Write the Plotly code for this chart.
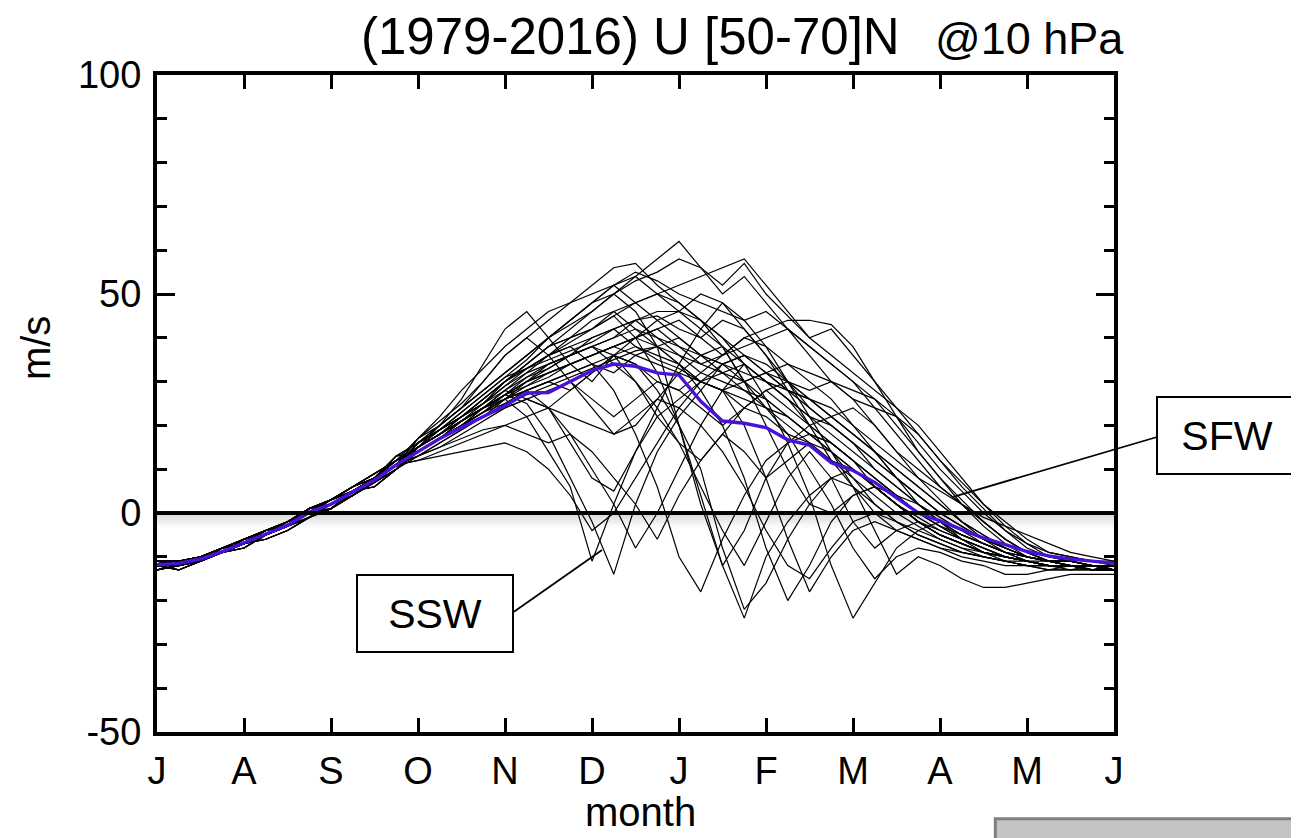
import plotly.graph_objects as go

# zonal-mean U, 50-70N, 10 hPa; one list per winter (Jul -> Jun), weekly-ish samples
month_labels = ["J", "A", "S", "O", "N", "D", "J", "F", "M", "A", "M", "J"]
month_pos = [i * 0.25 for i in range(45)]
y_ticks = [-50, 0, 50, 100]
y_labels = ["-50", "0", "50", "100"]

u1979 = [-12, -12, -11, -9, -7, -5, -3, 0, 2, 5, 8, 11, 16, 19, 22, 26, 30, 34, 38, 42, 46, 50, 53, 55, 58, 56, 52, 57, 50, 45, 40, 42, 36, 30, 24, 18, 12, 6, 1, -4, -8, -10, -11, -12, -12]
u1980 = [-13, -12, -10, -8, -6, -4, -2, 1, 3, 6, 9, 12, 15, 18, 21, 24, 26, 22, 14, 6, -11, 2, 14, 22, 26, 30, 28, 24, 28, 24, 20, 22, 18, 14, 10, 6, 2, -2, -5, -8, -10, -11, -12, -12, -13]
u1981 = [-11, -11, -10, -9, -7, -5, -3, -1, 1, 4, 7, 10, 14, 17, 20, 23, 27, 25, 18, 8, -2, -14, 2, 14, 22, 28, 34, 30, 32, 28, 26, 22, 24, 20, 14, 10, 6, 2, -2, -6, -9, -11, -12, -13, -12]
u1982 = [-12, -11, -11, -9, -6, -5, -2, 0, 3, 5, 7, 11, 15, 19, 22, 25, 30, 33, 36, 40, 42, 45, 40, 32, 20, 4, -12, -24, -10, -2, 4, 8, 6, 2, -2, -5, -7, -9, -10, -11, -12, -12, -12, -13, -13]
u1983 = [-12, -13, -11, -8, -7, -4, -3, 1, 2, 4, 8, 12, 14, 17, 21, 24, 27, 31, 33, 36, 38, 40, 44, 46, 46, 44, 40, 34, 26, 16, 4, -12, -24, -16, -8, -4, -2, -6, -9, -11, -12, -13, -12, -13, -13]
u1984 = [-11, -12, -10, -9, -8, -5, -3, 0, 1, 5, 7, 11, 17, 20, 24, 28, 32, 36, 40, 43, 46, 50, 54, 58, 62, 56, 50, 54, 48, 42, 38, 34, 30, 26, 20, 14, 8, 3, -2, -6, -9, -11, -12, -12, -13]
u1985 = [-13, -12, -11, -9, -7, -6, -4, -1, 2, 5, 8, 11, 16, 19, 23, 27, 31, 33, 36, 39, 42, 45, 48, 50, 52, 54, 56, 58, 52, 46, 40, 36, 32, 28, 24, 20, 14, 8, 2, -3, -7, -10, -11, -12, -12]
u1986 = [-12, -11, -10, -8, -6, -4, -2, 1, 3, 6, 8, 13, 14, 17, 20, 23, 26, 30, 34, 36, 40, 42, 38, 36, 34, 30, 32, 28, 26, 22, 18, 14, 6, -4, -14, -10, -12, -15, -17, -17, -16, -15, -14, -14, -14]
u1987 = [-12, -12, -11, -9, -7, -5, -3, 0, 2, 5, 8, 11, 13, 16, 19, 22, 25, 28, 30, 32, 34, 36, 38, 35, 33, 30, 28, 26, 24, 22, 18, 14, 10, 6, 2, -1, -4, -6, -8, -10, -11, -11, -12, -12, -12]
u1988 = [-13, -12, -10, -8, -6, -4, -2, 1, 3, 6, 9, 12, 15, 18, 21, 24, 28, 26, 24, 28, 32, 36, 30, 22, 16, 12, 18, 24, 28, 30, 26, 22, 18, 14, 8, 2, -2, -5, -7, -9, -10, -11, -11, -12, -12]
u1989 = [-11, -11, -10, -9, -7, -5, -3, -1, 1, 4, 7, 10, 16, 20, 26, 34, 42, 46, 40, 34, 30, 36, 40, 44, 46, 42, 38, 30, 24, 20, 16, 12, 8, 4, 0, -3, -6, -8, -9, -10, -11, -12, -12, -12, -13]
u1990 = [-12, -11, -11, -9, -6, -5, -2, 0, 3, 5, 7, 11, 12, 13, 14, 15, 16, 14, 10, 4, -4, 0, 8, 16, 24, 30, 34, 36, 32, 28, 24, 20, 16, 12, 8, 4, 0, -3, -6, -8, -10, -11, -12, -12, -12]
u1991 = [-12, -13, -11, -8, -7, -4, -3, 1, 2, 4, 8, 12, 14, 17, 21, 25, 29, 32, 36, 38, 34, 28, 18, 6, -10, -18, -6, 4, 12, 16, 18, 16, 12, 8, 4, 0, -3, -5, -7, -9, -10, -11, -11, -12, -12]
u1992 = [-11, -12, -10, -9, -8, -5, -3, 0, 1, 5, 6, 10, 15, 18, 22, 26, 30, 34, 38, 40, 44, 46, 42, 38, 34, 28, 20, 8, -8, -20, -12, -2, 4, 6, 4, 2, -1, -4, -7, -9, -11, -12, -12, -13, -13]
u1993 = [-13, -12, -11, -9, -7, -6, -4, -1, 2, 5, 8, 11, 17, 21, 25, 30, 36, 40, 44, 48, 52, 56, 57, 52, 48, 44, 40, 36, 34, 30, 26, 22, 18, 14, 10, 6, 2, -2, -5, -8, -10, -11, -12, -12, -12]
u1994 = [-12, -11, -10, -8, -6, -4, -2, 1, 3, 6, 8, 13, 14, 17, 20, 23, 26, 28, 30, 32, 34, 32, 36, 38, 40, 36, 34, 36, 32, 30, 28, 30, 26, 24, 22, 18, 12, 7, 2, -2, -6, -9, -10, -11, -12]
u1995 = [-12, -12, -11, -9, -7, -5, -3, 0, 2, 5, 8, 11, 13, 15, 17, 19, 20, 18, 16, 18, 14, 8, 2, -6, 4, 12, 18, 14, 8, 12, 16, 14, 10, 6, 2, -2, -5, -7, -9, -10, -11, -12, -12, -13, -13]
u1996 = [-13, -12, -10, -8, -6, -4, -2, 1, 3, 6, 9, 12, 15, 18, 21, 24, 27, 30, 33, 36, 38, 34, 30, 24, 16, 6, -4, -12, -2, 8, 14, 8, -2, -8, -4, -2, -4, -6, -8, -10, -11, -12, -12, -12, -13]
u1997 = [-11, -11, -10, -9, -7, -5, -3, -1, 1, 4, 7, 10, 16, 20, 24, 28, 32, 36, 40, 44, 48, 52, 54, 50, 46, 50, 48, 42, 36, 28, 20, 12, 6, 0, -4, -6, -8, -9, -10, -11, -11, -12, -12, -12, -13]
u1998 = [-12, -11, -11, -9, -6, -5, -2, 0, 3, 5, 7, 11, 14, 17, 20, 24, 27, 29, 31, 34, 36, 38, 40, 42, 44, 40, 36, 38, 40, 42, 38, 34, 30, 24, 18, 12, 6, 2, -2, -6, -9, -11, -12, -12, -12]
u1999 = [-12, -13, -11, -8, -7, -4, -3, 1, 2, 4, 8, 12, 15, 18, 21, 24, 26, 28, 30, 28, 32, 36, 34, 30, 28, 32, 36, 40, 38, 34, 30, 26, 20, 14, 8, 4, 0, -3, -6, -8, -10, -11, -11, -12, -12]
u2000 = [-11, -12, -10, -9, -8, -5, -3, 0, 1, 5, 6, 10, 13, 16, 19, 22, 26, 28, 24, 16, 8, 5, 14, 24, 34, 42, 48, 44, 38, 30, 22, 14, 8, 2, -2, -5, -7, -9, -10, -11, -12, -12, -13, -13, -13]
u2001 = [-13, -12, -11, -9, -7, -6, -4, -1, 2, 5, 8, 11, 15, 19, 22, 26, 30, 33, 36, 38, 40, 42, 44, 40, 36, 32, 30, 28, 24, 18, 10, 2, -8, -15, -10, -8, -9, -11, -12, -14, -14, -13, -13, -12, -12]
u2002 = [-12, -11, -10, -8, -6, -4, -2, 1, 3, 6, 8, 13, 16, 19, 22, 26, 30, 34, 38, 40, 42, 46, 48, 50, 48, 44, 38, 30, 20, 10, 2, 0, 4, 6, 2, -2, -5, -7, -9, -10, -11, -12, -12, -12, -12]
u2003 = [-12, -12, -11, -9, -7, -5, -3, 0, 2, 5, 8, 11, 15, 20, 24, 30, 36, 40, 36, 30, 24, 18, 20, 26, 32, 36, 38, 34, 30, 26, 22, 20, 16, 10, 6, 2, -2, -4, -6, -8, -10, -11, -12, -12, -13]
u2004 = [-13, -12, -10, -8, -6, -4, -2, 1, 3, 6, 9, 12, 14, 17, 20, 24, 28, 32, 34, 36, 38, 40, 42, 40, 38, 36, 34, 32, 30, 28, 26, 24, 20, 16, 12, 8, 5, 2, -1, -3, -5, -7, -9, -10, -11]
u2005 = [-11, -11, -10, -9, -7, -5, -3, -1, 1, 4, 7, 10, 15, 18, 22, 25, 28, 31, 34, 36, 38, 36, 34, 28, 20, 10, -8, -22, -16, -6, 2, 8, 10, 6, 2, -2, -5, -7, -9, -10, -11, -12, -12, -12, -13]
u2006 = [-12, -11, -11, -9, -6, -5, -2, 0, 3, 5, 7, 11, 14, 17, 20, 23, 26, 29, 32, 34, 36, 38, 40, 38, 36, 34, 32, 30, 26, 22, 18, 16, 12, 8, 4, 0, -3, -6, -8, -10, -11, -12, -12, -12, -12]
u2007 = [-12, -13, -11, -8, -7, -4, -3, 1, 2, 4, 8, 12, 15, 18, 21, 24, 27, 30, 32, 34, 36, 38, 40, 42, 38, 34, 36, 40, 42, 44, 44, 43, 38, 30, 22, 14, 8, 2, -3, -7, -10, -11, -12, -12, -12]
u2008 = [-11, -12, -10, -9, -8, -5, -3, 0, 1, 5, 6, 10, 14, 17, 20, 22, 24, 26, 24, 18, 10, 2, -8, 0, 10, 20, 28, 34, 30, 26, 22, 18, 14, 10, 6, 2, -2, -5, -7, -9, -10, -11, -11, -12, -12]
u2009 = [-13, -12, -11, -9, -7, -6, -4, -1, 2, 5, 8, 11, 12, 14, 16, 18, 20, 22, 24, 22, 20, 18, 22, 26, 24, 20, 14, 6, -4, -12, -15, -8, -2, 0, -2, -4, -6, -8, -10, -11, -12, -12, -12, -13, -13]
u2010 = [-12, -11, -10, -8, -6, -4, -2, 1, 3, 6, 8, 13, 16, 20, 24, 28, 32, 36, 40, 44, 48, 52, 55, 53, 50, 48, 46, 44, 46, 42, 36, 30, 26, 20, 14, 8, 3, -2, -6, -9, -11, -12, -12, -13, -13]
u2011 = [-12, -12, -11, -9, -7, -5, -3, 0, 2, 5, 8, 11, 16, 19, 23, 27, 31, 35, 40, 44, 48, 50, 46, 38, 20, 2, -12, -4, 8, 16, 20, 16, 12, 8, 4, 0, -3, -6, -8, -10, -11, -12, -12, -12, -12]
u2012 = [-13, -12, -10, -8, -6, -4, -2, 1, 3, 6, 9, 12, 14, 17, 21, 24, 27, 30, 32, 34, 36, 38, 36, 34, 32, 30, 28, 20, 8, -6, -18, -10, -4, -2, -4, -6, -8, -10, -11, -12, -12, -13, -13, -13, -12]
u2013 = [-11, -11, -10, -9, -7, -5, -3, -1, 1, 4, 7, 10, 15, 18, 22, 25, 29, 33, 35, 37, 39, 42, 44, 45, 42, 40, 44, 42, 36, 30, 24, 20, 16, 12, 8, 4, 0, -3, -6, -8, -10, -11, -11, -12, -12]
u2014 = [-12, -11, -11, -9, -6, -5, -2, 0, 3, 5, 7, 11, 13, 15, 18, 21, 24, 26, 28, 30, 26, 22, 26, 30, 28, 24, 20, 24, 22, 18, 16, 12, 10, 6, 2, -2, -5, -7, -9, -10, -11, -12, -12, -12, -13]
u2015 = [-12, -13, -11, -8, -7, -4, -3, 1, 2, 4, 8, 12, 17, 22, 28, 33, 38, 42, 46, 48, 50, 52, 48, 44, 40, 36, 32, 34, 30, 26, 20, 16, 12, 6, 2, -2, -5, -7, -9, -10, -11, -12, -12, -13, -12]
u2016 = [-11, -12, -10, -9, -8, -5, -3, 0, 1, 5, 6, 10, 14, 17, 20, 23, 25, 27, 29, 31, 33, 35, 37, 38, 34, 30, 28, 30, 32, 34, 32, 30, 28, 26, 22, 16, 10, 5, 0, -4, -7, -9, -10, -11, -11]

# climatological mean (blue)
u_mean = [-11.8, -11.5, -10.5, -8.8, -6.8, -4.8, -2.8, 0.2, 2.0, 4.8, 7.5, 11.0,
          14.0, 17.0, 19.5, 22.0, 24.5, 27.4, 27.5, 30.0, 32.5, 34.0, 33.5, 32.0,
          31.5, 25.5, 21.0, 20.5, 19.5, 16.7, 15.5, 11.5, 9.7, 7.0, 3.5, 0.0,
          -1.8, -3.8, -5.7, -7.2, -8.8, -9.8, -10.5, -11.0, -11.5]

years = [u1979, u1980, u1981, u1982, u1983, u1984, u1985, u1986, u1987, u1988,
         u1989, u1990, u1991, u1992, u1993, u1994, u1995, u1996, u1997, u1998,
         u1999, u2000, u2001, u2002, u2003, u2004, u2005, u2006, u2007, u2008,
         u2009, u2010, u2011, u2012, u2013, u2014, u2015, u2016]
assert all(len(u) == len(month_pos) for u in years)

FONT = "Liberation Sans, Arial, Helvetica, sans-serif"

fig = go.Figure()
for u in years:
    fig.add_trace(go.Scatter(x=month_pos, y=u, mode="lines",
                             line=dict(color="black", width=1.2), hoverinfo="skip"))
fig.add_trace(go.Scatter(x=month_pos, y=u_mean, mode="lines",
                         line=dict(color="#4a12d8", width=3.4)))

# thick zero line with the soft grey shadow under it
for k, op in enumerate([0.32, 0.26, 0.20, 0.14, 0.08, 0.04]):
    fig.add_shape(type="rect", xref="x", yref="y", x0=0, x1=11,
                  y0=-0.55 * (k + 1), y1=-0.55 * k, line_width=0,
                  fillcolor="gray", opacity=op, layer="below")
fig.add_shape(type="line", xref="x", yref="y", x0=0, x1=11, y0=0, y1=0,
              line=dict(color="black", width=4), layer="above")


def label(text, x, y, size, **kw):
    fig.add_annotation(xref="paper", yref="paper", x=x, y=y, text=text,
                       showarrow=False, xanchor=kw.pop("xanchor", "center"),
                       yanchor="middle",
                       font=dict(family=FONT, size=size, color="black"), **kw)


# SSW / SFW call-outs
label("SSW", 0.291, 0.181, 41, bgcolor="white", bordercolor="black",
      borderwidth=2, width=152, height=73)
fig.add_shape(type="line", xref="paper", yref="paper", x0=0.373, y0=0.183,
              x1=0.465, y1=0.277, line=dict(color="black", width=1.8))
label("SFW", 1.118, 0.451, 41, bgcolor="white", bordercolor="black",
      borderwidth=2, width=136, height=73)
fig.add_shape(type="line", xref="paper", yref="paper", x0=1.045, y0=0.449,
              x1=0.832, y1=0.358, line=dict(color="black", width=1.8))

# titles
label("(1979-2016) U [50-70]N", 0.495, 1.059, 51)
label("@10 hPa", 0.811, 1.056, 45, xanchor="left")
label("month", 0.505, -0.122, 40)
label("m/s", -0.127, 0.585, 40, textangle=-90)

# grey button strip at the bottom right edge
fig.add_shape(type="rect", xref="paper", yref="paper", x0=0.876, x1=1.25,
              y0=-0.30, y1=-0.132, fillcolor="#c4c4c4",
              line=dict(color="#808080", width=3))

# the page body adds an 8px offset, so the figure is 8px smaller
fig.update_layout(
    width=1291, height=830,
    margin=dict(l=149, r=185, t=67, b=106),
    paper_bgcolor="white", plot_bgcolor="white",
    showlegend=False,
    font=dict(family=FONT, size=38, color="black"),
)
fig.update_xaxes(range=[0, 11], tickvals=list(range(12)), ticktext=month_labels,
                 showline=True, linewidth=4, linecolor="black", mirror="ticks",
                 ticks="inside", ticklen=14, tickwidth=3, tickcolor="black",
                 showgrid=False, zeroline=False, ticklabelstandoff=2)
fig.update_yaxes(range=[-50, 100], tickvals=y_ticks, ticktext=y_labels,
                 showline=True, linewidth=4, linecolor="black", mirror="ticks",
                 ticks="inside", ticklen=18, tickwidth=3, tickcolor="black",
                 minor=dict(dtick=10, ticks="inside", ticklen=10, tickwidth=3,
                            tickcolor="black"),
                 showgrid=False, zeroline=False, ticklabelstandoff=4)

fig.write_html("out.html")
